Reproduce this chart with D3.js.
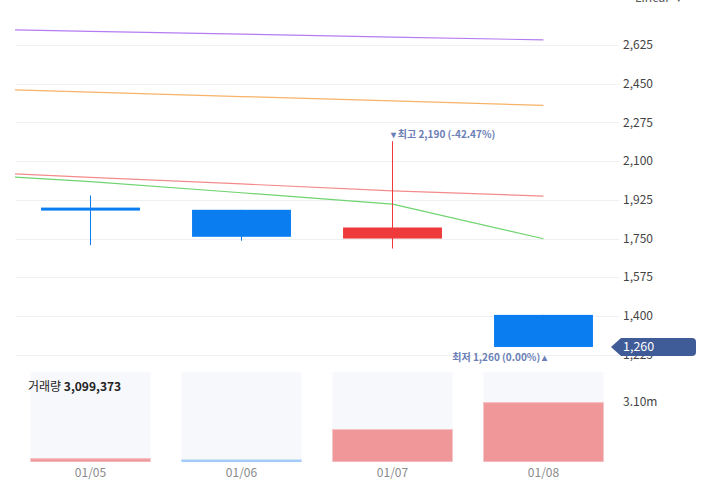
<!DOCTYPE html>
<html>
<head>
<meta charset="utf-8">
<script src="https://cdn.jsdelivr.net/npm/d3@7/dist/d3.min.js"></script>
<style>
  body { margin: 0; background: #fff; }
  svg { display: block; font-family: "Noto Sans CJK KR", "Noto Sans", sans-serif; }
</style>
</head>
<body>
<div id="chart"></div>
<script>
// candle data (Korean convention: red = up, blue = down)
const dates = ["01/05", "01/06", "01/07", "01/08"];
const opens = [1890, 1880, 1750, 1405];
const highs = [1945, 1880, 2190, 1405];
const lows = [1720, 1740, 1705, 1260];
const closes = [1880, 1758, 1800, 1260];
const volumes = [175000, 100000, 1700000, 3099373];
const volumeColors = ["#f0979a", "#7fb6f6", "#f0979a", "#f0979a"];

// moving averages, index -1 is the day before 01/05 (off screen)
const maIndex = [-1, 0, 1, 2, 3];
const maPurple = [2700, 2687, 2674, 2661, 2648];
const maOrange = [2432, 2412, 2392, 2372, 2352];
const maRed = [2057, 2027, 1997, 1966, 1942];
const maGreen = [2049, 2007, 1957, 1906, 1749];

const priceTicks = [1225, 1400, 1575, 1750, 1925, 2100, 2275, 2450, 2625];

const width = 707, height = 490;
const plotLeft = 15, plotRight = 619;

const svg = d3.select("#chart").append("svg")
    .attr("width", width)
    .attr("height", height);

// x as index -> pixel, each day is one unit
const x = d3.scaleLinear().domain([-0.5, 3.5]).range([plotLeft, plotRight]);
const step = x(1) - x(0);
const bodyW = step * 0.655;
const panelW = step * 0.795;

const y = d3.scaleLinear().domain([1225, 2625]).range([354.7, 45]);

svg.append("defs").append("clipPath").attr("id", "priceClip")
    .append("rect").attr("x", plotLeft).attr("y", 0)
    .attr("width", plotRight - plotLeft).attr("height", 362);

// gridlines
svg.append("g").selectAll("line")
    .data(priceTicks)
    .enter().append("line")
    .attr("x1", plotLeft + 1).attr("x2", plotRight)
    .attr("y1", d => Math.round(y(d)) + 0.5)
    .attr("y2", d => Math.round(y(d)) + 0.5)
    .attr("stroke", "#eef0f4");

// price axis labels
svg.append("g").selectAll("text")
    .data(priceTicks)
    .enter().append("text")
    .attr("x", 623)
    .attr("y", d => y(d))
    .attr("dy", "0.35em")
    .attr("font-size", 12)
    .attr("fill", "#444")
    .text(d => d3.format(",")(d));

// scale type label, cut off at the top
svg.append("text")
    .attr("x", 635).attr("y", 2)
    .attr("font-size", 12).attr("fill", "#555")
    .text("Linear  ∨");

const price = svg.append("g").attr("clip-path", "url(#priceClip)");

// moving average lines
const maLine = d3.line().x(d => x(d[0])).y(d => y(d[1]));
[[maPurple, "#b57cf2"], [maOrange, "#f7b267"], [maRed, "#f38b8b"], [maGreen, "#6fd46f"]]
    .forEach(([vals, color]) => {
        price.append("path")
            .datum(maIndex.map((i, k) => [i, vals[k]]))
            .attr("fill", "none")
            .attr("stroke", color)
            .attr("stroke-width", 1.2)
            .attr("d", maLine);
    });

// candles
const candleColor = i => closes[i] >= opens[i] ? "#ef3a3b" : "#0a7ef1";
const candles = price.selectAll(".candle")
    .data(dates)
    .enter().append("g")
    .attr("class", "candle");

candles.append("line")
    .attr("x1", (d, i) => Math.round(x(i)) - 0.5)
    .attr("x2", (d, i) => Math.round(x(i)) - 0.5)
    .attr("y1", (d, i) => y(highs[i]))
    .attr("y2", (d, i) => y(lows[i]))
    .attr("stroke", (d, i) => candleColor(i))
    .attr("stroke-width", 1);

candles.append("rect")
    .attr("x", (d, i) => x(i) - bodyW / 2)
    .attr("width", bodyW)
    .attr("y", (d, i) => y(Math.max(opens[i], closes[i])))
    .attr("height", (d, i) => Math.max(3, y(Math.min(opens[i], closes[i])) - y(Math.max(opens[i], closes[i]))))
    .attr("fill", (d, i) => candleColor(i));

// high / low annotations
const hiIdx = d3.maxIndex(highs), loIdx = d3.minIndex(lows);
const lastClose = closes[closes.length - 1];
const pct = v => ((lastClose - v) / v * 100).toFixed(2);
svg.append("text")
    .attr("x", x(hiIdx) - 2).attr("y", y(highs[hiIdx]) - 3)
    .attr("font-size", 10).attr("font-weight", "bold").attr("fill", "#6b7eb6")
    .text(`▾ 최고 ${d3.format(",")(highs[hiIdx])} (${pct(highs[hiIdx])}%)`);
svg.append("text")
    .attr("x", x(loIdx) + 4).attr("y", y(lows[loIdx]) + 14)
    .attr("text-anchor", "end")
    .attr("font-size", 10).attr("font-weight", "bold").attr("fill", "#6b7eb6")
    .text(`최저 ${d3.format(",")(lows[loIdx])} (${pct(lows[loIdx])}%) ▴`);

// current price tag
const tagY = y(lastClose);
svg.append("path")
    .attr("d", `M611,${tagY} L621,${tagY - 9} L692,${tagY - 9} Q696,${tagY - 9} 696,${tagY - 5} L696,${tagY + 5} Q696,${tagY + 9} 692,${tagY + 9} L621,${tagY + 9} Z`)
    .attr("fill", "#405c98");
svg.append("text")
    .attr("x", 623).attr("y", tagY).attr("dy", "0.36em")
    .attr("font-size", 12.5).attr("fill", "#fff")
    .text(d3.format(",")(lastClose));

// volume panels
const vTop = 372.3, vBottom = 461.7;
const yv = d3.scaleLinear().domain([0, d3.max(volumes) * 1.5]).range([vBottom, vTop]);

const vol = svg.append("g");
vol.selectAll(".panel")
    .data(dates)
    .enter().append("rect")
    .attr("x", (d, i) => x(i) - panelW / 2)
    .attr("width", panelW)
    .attr("y", vTop)
    .attr("height", vBottom - vTop)
    .attr("fill", "#f7f8fc");

vol.selectAll(".vbar")
    .data(volumes)
    .enter().append("rect")
    .attr("x", (d, i) => x(i) - panelW / 2)
    .attr("width", panelW)
    .attr("y", d => yv(d))
    .attr("height", d => vBottom - yv(d))
    .attr("fill", (d, i) => volumeColors[i]);

vol.selectAll(".vtop")
    .data(volumes)
    .enter().append("line")
    .attr("x1", (d, i) => x(i) - panelW / 2)
    .attr("x2", (d, i) => x(i) + panelW / 2)
    .attr("y1", d => yv(d) + 0.5)
    .attr("y2", d => yv(d) + 0.5)
    .attr("stroke", (d, i) => i === 1 ? "#b3d3fa" : "#f6c3c5");

// date labels
svg.append("g").selectAll("text")
    .data(dates)
    .enter().append("text")
    .attr("x", (d, i) => x(i))
    .attr("y", 473)
    .attr("dy", "0.35em")
    .attr("text-anchor", "middle")
    .attr("font-size", 12)
    .attr("fill", "#8a8a8a")
    .text(d => d);

// volume axis label
const maxVol = d3.max(volumes);
svg.append("text")
    .attr("x", 623).attr("y", yv(maxVol)).attr("dy", "0.35em")
    .attr("font-size", 12).attr("fill", "#444")
    .text((maxVol / 1e6).toFixed(2) + "m");

// volume legend
const legend = svg.append("text")
    .attr("x", 28).attr("y", 386.5).attr("dy", "0.35em")
    .attr("font-size", 12).attr("fill", "#222");
legend.append("tspan").text("거래량 ");
legend.append("tspan").attr("font-weight", "bold").text(d3.format(",")(maxVol));
</script>
</body>
</html>
